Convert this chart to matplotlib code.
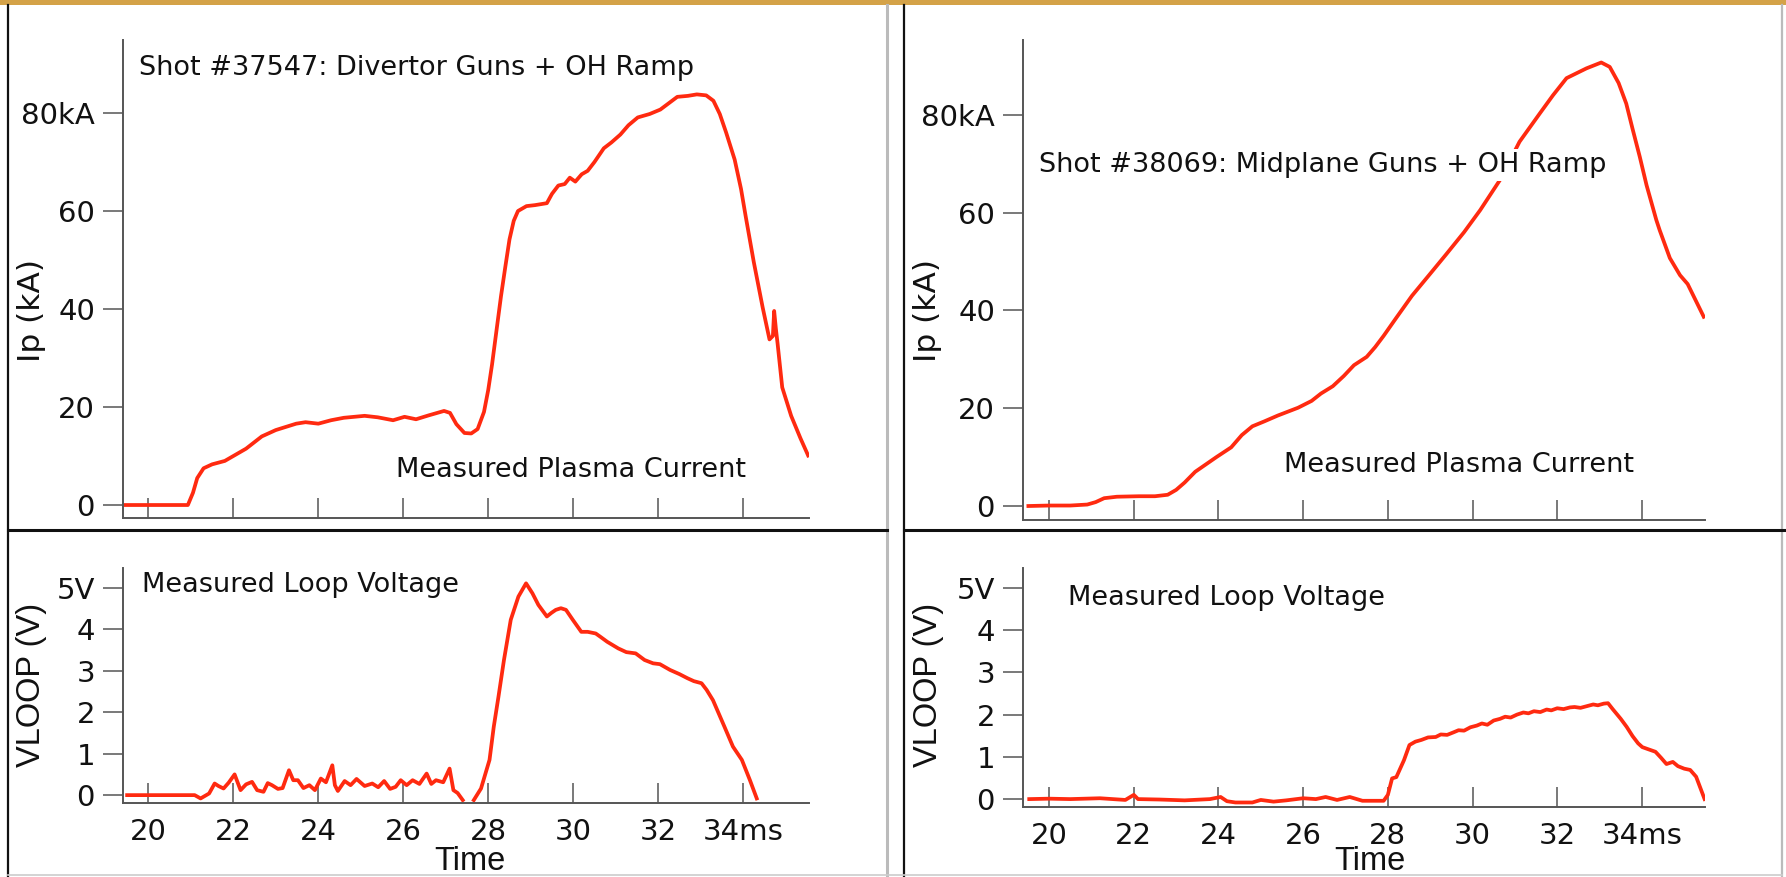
import numpy as np
import matplotlib
matplotlib.use("Agg")
import matplotlib.pyplot as plt
from matplotlib.patches import Rectangle
from matplotlib.lines import Line2D

W, H = 1786, 877

# ---------------- data ----------------
# Shot 37547, plasma current (kA) vs time (ms)
t_ip_37547 = [19.46, 20.0, 20.5, 20.93, 21.05, 21.15, 21.3, 21.5, 21.8, 22.0,
              22.3, 22.67, 23.0, 23.48, 23.7, 24.0, 24.3, 24.6, 25.09, 25.4,
              25.76, 26.03, 26.3, 26.6, 26.96, 27.1, 27.25, 27.44, 27.6, 27.75,
              27.9, 28.0, 28.09, 28.2, 28.3, 28.4, 28.5, 28.6, 28.7, 28.9,
              29.1, 29.38, 29.5, 29.65, 29.8, 29.92, 30.05, 30.2, 30.34, 30.5,
              30.72, 30.9, 31.11, 31.3, 31.52, 31.8, 32.05, 32.25, 32.45, 32.7,
              32.91, 33.13, 33.3, 33.45, 33.6, 33.8, 33.95, 34.06, 34.25, 34.46,
              34.62, 34.7, 34.73, 34.77, 34.81, 34.92, 35.13, 35.35, 35.53]
ip_37547 = [0, 0, 0, 0, 2.5, 5.5, 7.5, 8.3, 9.0, 10.0,
            11.5, 14.0, 15.3, 16.6, 16.9, 16.6, 17.3, 17.8, 18.2, 17.9,
            17.3, 18.0, 17.5, 18.3, 19.2, 18.8, 16.5, 14.7, 14.6, 15.5,
            19.0, 23.5, 28.7, 36.0, 42.6, 48.5, 54.2, 58.0, 60.0, 61.0,
            61.2, 61.6, 63.5, 65.2, 65.5, 66.8, 66.0, 67.5, 68.2, 70.0,
            72.8, 74.0, 75.6, 77.5, 79.1, 79.8, 80.7, 82.0, 83.3, 83.5,
            83.8, 83.6, 82.5, 79.8, 76.0, 70.5, 64.5, 58.9, 49.6, 40.3,
            33.8, 34.5, 39.6, 36.0, 33.0, 24.0, 18.2, 13.6, 10.1]

# Shot 37547, loop voltage (V); NaN marks the gap in the trace
t_vl_37547 = [19.50, 21.09, 21.23, 21.43, 21.56, 21.65, 21.77, 21.89, 22.03, 22.17,
              22.30, 22.44, 22.56, 22.71, 22.81, 22.91, 23.05, 23.16, 23.31, 23.41,
              23.52, 23.65, 23.79, 23.92, 24.06, 24.18, 24.33, 24.39, 24.46, 24.62,
              24.76, 24.90, 25.09, 25.27, 25.41, 25.55, 25.69, 25.82, 25.94, 26.08,
              26.22, 26.38, 26.55, 26.66, 26.77, 26.94, 27.09, 27.18, 27.28, 27.40,
              27.53, 27.66, 27.83, 28.03, 28.13, 28.24, 28.37, 28.53, 28.71, 28.89,
              29.04, 29.18, 29.38, 29.49, 29.59, 29.71, 29.83, 29.99, 30.19, 30.34,
              30.53, 30.64, 30.80, 31.06, 31.25, 31.47, 31.68, 31.88, 32.04, 32.28,
              32.50, 32.69, 32.84, 33.02, 33.14, 33.29, 33.56, 33.76, 33.97, 34.16,
              34.32]
vl_37547 = [0.0, 0.0, -0.08, 0.04, 0.28, 0.22, 0.16, 0.30, 0.50, 0.12,
            0.26, 0.32, 0.12, 0.08, 0.29, 0.24, 0.15, 0.17, 0.60, 0.36,
            0.36, 0.17, 0.24, 0.12, 0.40, 0.31, 0.72, 0.24, 0.10, 0.34,
            0.24, 0.39, 0.22, 0.28, 0.19, 0.34, 0.15, 0.20, 0.36, 0.24,
            0.36, 0.27, 0.52, 0.27, 0.36, 0.31, 0.64, 0.12, 0.05, -0.12,
            np.nan, -0.12, 0.16, 0.85, 1.65, 2.37, 3.26, 4.23, 4.79, 5.11,
            4.87, 4.59, 4.31, 4.40, 4.47, 4.51, 4.47, 4.23, 3.94, 3.94,
            3.90, 3.82, 3.70, 3.54, 3.45, 3.42, 3.26, 3.18, 3.16, 3.02,
            2.92, 2.82, 2.75, 2.70, 2.54, 2.29, 1.65, 1.17, 0.85, 0.36,
            -0.08]

# Shot 38069, plasma current (kA)
t_ip_38069 = [19.51, 20.0, 20.5, 20.9, 21.1, 21.3, 21.6, 22.12, 22.5, 22.8,
              23.0, 23.2, 23.45, 23.7, 23.95, 24.3, 24.55, 24.8, 25.08, 25.4,
              25.88, 26.2, 26.42, 26.7, 26.96, 27.2, 27.5, 27.7, 27.9, 28.2,
              28.57, 29.0, 29.38, 29.8, 30.18, 30.65, 31.11, 31.59, 31.9, 32.22,
              32.69, 33.04, 33.24, 33.45, 33.63, 33.78, 33.95, 34.11, 34.34, 34.42,
              34.66, 34.9, 35.08, 35.46]
ip_38069 = [0.0, 0.1, 0.1, 0.3, 0.8, 1.6, 1.9, 2.0, 2.0, 2.3,
            3.3, 4.8, 7.0, 8.5, 10.0, 12.0, 14.5, 16.3, 17.3, 18.5,
            20.1, 21.5, 23.0, 24.5, 26.6, 28.8, 30.5, 32.5, 34.8, 38.5,
            43.0, 47.5, 51.5, 56.0, 60.5, 66.7, 74.5, 80.3, 84.0, 87.5,
            89.5, 90.7, 89.8, 86.5, 82.3, 77.1, 71.4, 65.6, 58.5, 56.4,
            50.7, 47.2, 45.4, 38.7]

# Shot 38069, loop voltage (V)
t_vl_38069 = [19.53, 20.0, 20.5, 21.2, 21.8, 22.0, 22.1, 22.6, 23.2, 23.8,
              24.05, 24.2, 24.4, 24.8, 25.0, 25.3, 25.6, 26.0, 26.3, 26.53,
              26.8, 27.1, 27.4, 27.9, 28.0, 28.1, 28.2, 28.38, 28.51, 28.65,
              28.79, 28.95, 29.13, 29.25, 29.4, 29.55, 29.67, 29.8, 29.95, 30.1,
              30.22, 30.35, 30.5, 30.65, 30.77, 30.9, 31.05, 31.2, 31.32, 31.45,
              31.6, 31.75, 31.86, 32.0, 32.15, 32.3, 32.41, 32.55, 32.7, 32.85,
              32.96, 33.1, 33.2, 33.31, 33.5, 33.64, 33.78, 33.91, 34.01, 34.15,
              34.32, 34.45, 34.58, 34.73, 34.85, 35.0, 35.14, 35.28, 35.48]
vl_38069 = [0.0, 0.01, 0.0, 0.02, -0.02, 0.10, 0.0, -0.01, -0.03, 0.0,
            0.05, -0.05, -0.08, -0.08, -0.02, -0.06, -0.03, 0.02, 0.0, 0.05,
            -0.02, 0.05, -0.04, -0.04, 0.10, 0.49, 0.52, 0.92, 1.28, 1.36,
            1.40, 1.46, 1.47, 1.53, 1.52, 1.58, 1.63, 1.62, 1.70, 1.74,
            1.79, 1.76, 1.86, 1.90, 1.95, 1.93, 2.00, 2.05, 2.03, 2.08,
            2.06, 2.12, 2.10, 2.15, 2.13, 2.17, 2.18, 2.16, 2.20, 2.24,
            2.22, 2.26, 2.27, 2.13, 1.90, 1.71, 1.49, 1.32, 1.23, 1.18,
            1.12, 0.98, 0.83, 0.88, 0.78, 0.72, 0.69, 0.53, 0.0]

ip_ticks = [0, 20, 40, 60, 80]
ip_ticklabels = ["0", "20", "40", "60", "80kA"]
vl_ticks = [0, 1, 2, 3, 4, 5]
vl_ticklabels = ["0", "1", "2", "3", "4", "5V"]
time_ticks = [20, 22, 24, 26, 28, 30, 32, 34]
time_ticklabels = ["20", "22", "24", "26", "28", "30", "32", "34ms"]

# ---------------- style ----------------
RED = "#FF2A10"
AXC = "#555555"
TXT = "#111111"
FS = 19.5
TFS = 21
plt.rcParams["font.family"] = ["DejaVu Sans"]

fig = plt.figure(figsize=(W / 100, H / 100), dpi=100)
fig.patch.set_facecolor("white")


def pos(l, r, t, b):
    return [l / W, 1 - b / H, (r - l) / W, (b - t) / H]


def fx(x):
    return x / W


def fy(y):
    return 1 - y / H


def style(ax, xlim, ylim, yt, ytl, xlabels):
    ax.set_xlim(*xlim)
    ax.set_ylim(*ylim)
    for s in ["top", "right"]:
        ax.spines[s].set_visible(False)
    for s in ["left", "bottom"]:
        ax.spines[s].set_color(AXC)
        ax.spines[s].set_linewidth(1.4)
    ax.set_yticks(yt)
    ax.set_yticklabels(ytl)
    ax.set_xticks(time_ticks)
    if xlabels:
        ax.set_xticklabels(time_ticklabels)
    else:
        ax.set_xticklabels([])
    ax.tick_params(axis="y", direction="out", length=14.4, width=1.1,
                   color=AXC, pad=6, labelsize=TFS, labelcolor=TXT)
    ax.tick_params(axis="x", direction="in", length=14.4, width=1.1,
                   color=AXC, pad=11, labelsize=TFS, labelcolor=TXT)
    ax.patch.set_alpha(0)


# panels
ax1 = fig.add_axes(pos(123.3, 809, 40, 518))
ax1.plot(t_ip_37547, ip_37547, color=RED, lw=2.7, solid_joinstyle="round")
style(ax1, (19.41, 35.55), (-2.65, 94.9), ip_ticks, ip_ticklabels, False)

ax2 = fig.add_axes(pos(123.3, 809, 568, 803))
ax2.plot(t_vl_37547, vl_37547, color=RED, lw=2.7, solid_joinstyle="round")
style(ax2, (19.41, 35.55), (-0.19, 5.48), vl_ticks, vl_ticklabels, True)

ax3 = fig.add_axes(pos(1023.3, 1705, 40, 520))
ax3.plot(t_ip_38069, ip_38069, color=RED, lw=2.7, solid_joinstyle="round")
style(ax3, (19.39, 35.49), (-2.86, 95.3), ip_ticks, ip_ticklabels, False)

ax4 = fig.add_axes(pos(1023.3, 1705, 568, 806.7))
ax4.plot(t_vl_38069, vl_38069, color=RED, lw=2.7, solid_joinstyle="round")
style(ax4, (19.39, 35.49), (-0.18, 5.47), vl_ticks, vl_ticklabels, True)

# annotations
fig.text(fx(139), fy(68), "Shot #37547: Divertor Guns + OH Ramp", fontsize=FS,
         color=TXT, ha="left", va="center")
fig.text(fx(396), fy(470), "Measured Plasma Current", fontsize=FS,
         color=TXT, ha="left", va="center")
fig.text(fx(142), fy(585), "Measured Loop Voltage", fontsize=FS,
         color=TXT, ha="left", va="center")
fig.text(fx(1039), fy(165), "Shot #38069: Midplane Guns + OH Ramp", fontsize=FS,
         color=TXT, ha="left", va="center",
         bbox=dict(boxstyle="square,pad=0.1", fc="white", ec="none"))
fig.text(fx(1284), fy(465), "Measured Plasma Current", fontsize=FS,
         color=TXT, ha="left", va="center")
fig.text(fx(1068), fy(598), "Measured Loop Voltage", fontsize=FS,
         color=TXT, ha="left", va="center")

narrow = ["Liberation Sans Narrow", "Liberation Sans", "DejaVu Sans"]
for x in (32, 928):
    fig.text(fx(x), fy(310), "Ip (kA)", fontsize=22.5, color=TXT, rotation=90,
             ha="center", va="center")
    fig.text(fx(x), fy(685), "VLOOP (V)", fontsize=23.5, color=TXT, rotation=90,
             ha="center", va="center", family=narrow)
for x in (470, 1370):
    fig.text(fx(x), fy(862), "Time", fontsize=23.5, color=TXT,
             ha="center", va="center", family=narrow)

# frame decorations
fig.add_artist(Rectangle((0, fy(5)), 1, 5 / H, transform=fig.transFigure,
                         fc="#D4A248", ec="none"))


def hline(y, x0, x1, c, lw):
    fig.add_artist(Line2D([fx(x0), fx(x1)], [fy(y), fy(y)],
                          transform=fig.transFigure, color=c, lw=lw))


def vline(x, y0, y1, c, lw):
    fig.add_artist(Line2D([fx(x), fx(x)], [fy(y0), fy(y1)],
                          transform=fig.transFigure, color=c, lw=lw))


vline(8, 5, 877, "#111111", 1.6)
vline(887, 5, 877, "#BBBBBB", 2.2)
vline(904, 5, 877, "#111111", 1.6)
vline(1782, 5, 877, "#BBBBBB", 1.6)
hline(530, 8, 887, "#111111", 2.2)
hline(530, 904, 1786, "#111111", 2.2)
hline(875, 8, 1782, "#CCCCCC", 1.2)

fig.savefig("out.png", dpi=100, facecolor="white")
